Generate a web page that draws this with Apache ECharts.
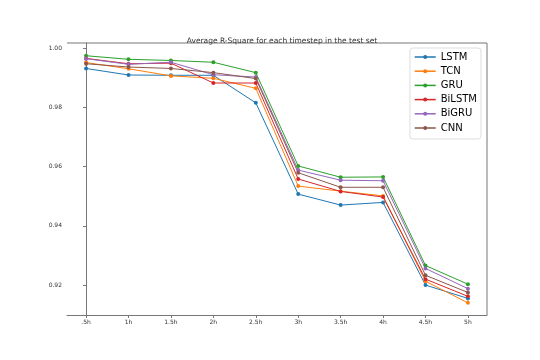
<!DOCTYPE html>
<html>
<head>
<meta charset="utf-8">
<script src="https://cdn.jsdelivr.net/npm/echarts@6/dist/echarts.min.js"></script>
<style>
  html, body { margin: 0; padding: 0; background: #fff; }
  #chart { width: 540px; height: 360px; }
</style>
</head>
<body>
<div id="chart"></div>
<script>
var steps = ['.5h', '1h', '1.5h', '2h', '2.5h', '3h', '3.5h', '4h', '4.5h', '5h']

var lstm   = [0.9931, 0.9909, 0.9908, 0.9908, 0.9815, 0.9507, 0.9470, 0.9479, 0.9200, 0.9155]
var tcn    = [0.9951, 0.9930, 0.9906, 0.9898, 0.9864, 0.9534, 0.9517, 0.9501, 0.9213, 0.9140]
var gru    = [0.9974, 0.9962, 0.9958, 0.9952, 0.9917, 0.9602, 0.9564, 0.9565, 0.9266, 0.9203]
var bilstm = [0.9965, 0.9947, 0.9949, 0.9882, 0.9882, 0.9558, 0.9516, 0.9497, 0.9220, 0.9162]
var bigru  = [0.9964, 0.9945, 0.9952, 0.9910, 0.9902, 0.9588, 0.9554, 0.9552, 0.9256, 0.9188]
var cnn    = [0.9947, 0.9936, 0.9931, 0.9917, 0.9897, 0.9579, 0.9530, 0.9530, 0.9233, 0.9175]

var yTicks = [0.92, 0.94, 0.96, 0.98, 1.00]

var myChart = echarts.init(document.getElementById('chart'))

function mk(name, vals, color) {
    return {
        name: name,
        type: 'line',
        data: vals.map(function (v, i) { return [i, v] }),
        symbol: 'circle',
        symbolSize: 4,
        itemStyle: { color: color },
        lineStyle: { color: color, width: 1 },
        emphasis: { disabled: true },
        animation: false
    }
}

var option = {
    backgroundColor: '#fff',
    title: {
        text: 'Average R-Square for each timestep in the test set',
        left: 277,
        textAlign: 'center',
        top: 32,
        textStyle: { fontSize: 7.5, fontWeight: 'normal', color: '#333', fontFamily: 'DejaVu Sans' }
    },
    legend: {
        orient: 'vertical',
        right: 59,
        top: 48,
        itemWidth: 21,
        itemHeight: 5,
        itemGap: 0.2,
        padding: [2, 4, 4, 4],
        borderColor: '#ddd',
        borderWidth: 1,
        borderRadius: 3,
        lineStyle: { width: 1.5 },
        textStyle: { fontSize: 10, lineHeight: 14, color: '#000', fontFamily: 'DejaVu Sans' },
        data: ['LSTM', 'TCN', 'GRU', 'BiLSTM', 'BiGRU', 'CNN']
    },
    grid: { left: 67, right: 53, top: 43, bottom: 45 },
    xAxis: {
        type: 'value',
        min: -0.45,
        max: 9.45,
        splitLine: { show: false },
        axisLine: { lineStyle: { color: '#777', width: 1 } },
        axisTick: { customValues: [0, 1, 2, 3, 4, 5, 6, 7, 8, 9], length: 3, lineStyle: { color: '#777' } },
        axisLabel: {
            customValues: [0, 1, 2, 3, 4, 5, 6, 7, 8, 9],
            fontSize: 6, color: '#333', margin: 4, fontFamily: 'DejaVu Sans',
            formatter: function (v) { return steps[Math.round(v)] }
        }
    },
    yAxis: {
        type: 'value',
        min: 0.9099,
        max: 1.0017,
        splitLine: { show: false },
        axisLine: { show: true, lineStyle: { color: '#777', width: 1 } },
        axisTick: { show: true, customValues: yTicks, length: 3, lineStyle: { color: '#777' } },
        axisLabel: {
            customValues: yTicks,
            fontSize: 6, color: '#333', margin: 5, fontFamily: 'DejaVu Sans',
            formatter: function (v) { return v.toFixed(2) }
        }
    },
    series: [
        mk('LSTM', lstm, '#1f77b4'),
        mk('TCN', tcn, '#ff7f0e'),
        mk('GRU', gru, '#2ca02c'),
        mk('BiLSTM', bilstm, '#d62728'),
        mk('BiGRU', bigru, '#9467bd'),
        mk('CNN', cnn, '#8c564b')
    ]
}

// right and top spines like matplotlib
option.graphic = [{
    type: 'polyline',
    shape: { points: [[67, 43], [487, 43], [487, 315]] },
    style: { stroke: '#777', lineWidth: 1, fill: null },
    silent: true
}]

myChart.setOption(option)
</script>
</body>
</html>
